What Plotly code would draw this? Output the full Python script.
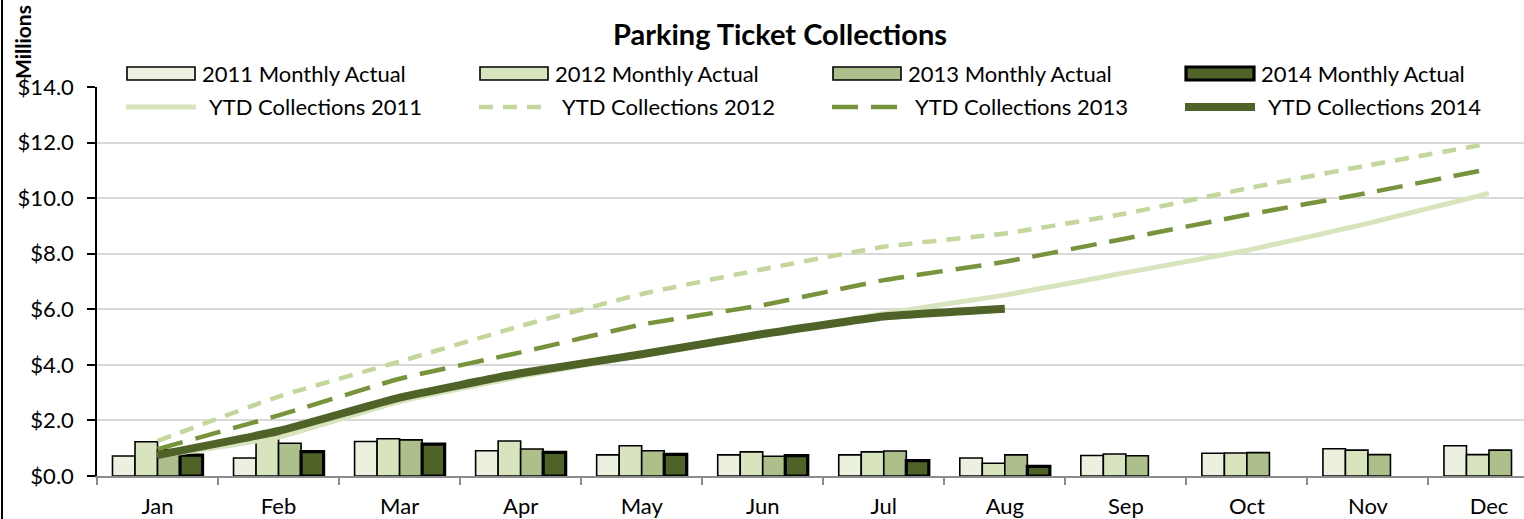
import plotly.graph_objects as go

months = ["Jan", "Feb", "Mar", "Apr", "May", "Jun", "Jul", "Aug", "Sep", "Oct", "Nov", "Dec"]

monthly_2011 = [0.72, 0.65, 1.24, 0.91, 0.76, 0.76, 0.76, 0.65, 0.74, 0.82, 0.98, 1.09]
monthly_2012 = [1.23, 1.55, 1.34, 1.26, 1.09, 0.87, 0.87, 0.46, 0.79, 0.83, 0.93, 0.77]
monthly_2013 = [0.95, 1.18, 1.30, 0.97, 0.91, 0.71, 0.90, 0.76, 0.73, 0.84, 0.77, 0.93]
monthly_2014 = [0.75, 0.88, 1.15, 0.85, 0.78, 0.73, 0.55, 0.35, None, None, None, None]

ytd_2011 = [0.72, 1.40, 2.68, 3.58, 4.35, 5.10, 5.85, 6.51, 7.32, 8.12, 9.09, 10.17]
ytd_2012 = [1.26, 2.86, 4.12, 5.40, 6.55, 7.44, 8.25, 8.73, 9.45, 10.35, 11.18, 11.96]
ytd_2013 = [0.97, 2.18, 3.50, 4.45, 5.45, 6.15, 7.05, 7.71, 8.55, 9.40, 10.19, 11.05]
ytd_2014 = [0.75, 1.62, 2.82, 3.70, 4.38, 5.11, 5.74, 6.02]

bar_names = ["2011 Monthly Actual", "2012 Monthly Actual", "2013 Monthly Actual", "2014 Monthly Actual"]
line_names = ["YTD Collections 2011", "YTD Collections 2012", "YTD Collections 2013", "YTD Collections 2014"]

BAR_COLORS = ["#ebf1de", "#d7e4bd", "#adbf8a", "#4f6228"]
BAR_LW = [1.6, 1.6, 1.6, 3.2]
LINE_COLORS = ["#d7e4bd", "#c3d69b", "#77933c", "#4f6228"]
LINE_W = [5, 4.5, 4.5, 8]
LINE_DASH = ["solid", "14px,10px", "26px,13px", "solid"]

FONT = "Lato"
W, H = 1524, 519
L, R, T, B = 97, 0, 87, 43
PW, PH = W - L - R, H - T - B

def px(x):
    return (x - L) / PW

def py(y):
    return (H - B - y) / PH

fig = go.Figure()

for name, vals, col, lw in zip(bar_names, [monthly_2011, monthly_2012, monthly_2013, monthly_2014], BAR_COLORS, BAR_LW):
    fig.add_trace(go.Bar(x=months, y=vals, name=name, marker=dict(color=col, line=dict(color="black", width=lw)),
                         showlegend=False))

for name, vals, col, lw, dash in zip(line_names, [ytd_2011, ytd_2012, ytd_2013, ytd_2014], LINE_COLORS, LINE_W, LINE_DASH):
    fig.add_trace(go.Scatter(x=months[:len(vals)], y=vals, name=name, mode="lines",
                             line=dict(color=col, width=lw, dash=dash, shape="spline", smoothing=0.4),
                             showlegend=False))

shapes = []
annotations = []
col_x = [127, 480, 833, 1186]
for i in range(4):
    x0 = col_x[i]
    shapes.append(dict(type="rect", xref="paper", yref="paper",
                       x0=px(x0), x1=px(x0 + 68), y0=py(80), y1=py(67),
                       fillcolor=BAR_COLORS[i], line=dict(color="black", width=BAR_LW[i])))
    annotations.append(dict(text=bar_names[i], xref="paper", yref="paper", x=px(x0 + 73), y=py(73),
                            xanchor="left", yanchor="middle", showarrow=False,
                            font=dict(family=FONT, size=22, color="black")))
    shapes.append(dict(type="line", xref="paper", yref="paper",
                       x0=px(x0 - 1), x1=px(x0 + 69), y0=py(107), y1=py(107),
                       line=dict(color=LINE_COLORS[i], width=LINE_W[i], dash=LINE_DASH[i])))
    annotations.append(dict(text=line_names[i], xref="paper", yref="paper", x=px(x0 + 80), y=py(107),
                            xanchor="left", yanchor="middle", showarrow=False,
                            font=dict(family=FONT, size=22, color="black")))

shapes.append(dict(type="line", xref="paper", yref="paper", x0=px(2), x1=px(2), y0=py(0), y1=py(H),
                   line=dict(color="black", width=2)))

annotations.append(dict(text="<b>Millions</b>", xref="paper", yref="paper", x=px(22), y=py(42),
                        xanchor="center", yanchor="middle", textangle=-90, showarrow=False,
                        font=dict(family=FONT, size=21, color="black")))

fig.update_layout(
    width=W, height=H,
    margin=dict(l=L, r=R, t=T, b=B),
    paper_bgcolor="white", plot_bgcolor="white",
    barmode="group", bargap=0.256, bargroupgap=0,
    font=dict(family=FONT, size=22, color="black"),
    title=dict(text="<b>Parking Ticket Collections</b>", x=780 / W, xanchor="center",
               y=1 - 35 / H, yanchor="middle", yref="container",
               font=dict(family=FONT, size=29, color="black")),
    shapes=shapes, annotations=annotations,
    xaxis=dict(type="category", range=[-0.5, (W - 158) / 121], tickson="boundaries",
               ticks="outside", ticklen=7, tickwidth=1.5, tickcolor="#8c8c8c",
               showline=True, linecolor="#8c8c8c", linewidth=2, showgrid=False,
               ticklabelstandoff=10, tickfont=dict(family=FONT, size=22, color="black")),
    yaxis=dict(range=[0, 14], dtick=2, tickprefix="$", tickformat=".1f",
               showline=True, linecolor="black", linewidth=1.5,
               ticks="outside", ticklen=8, tickwidth=1.5, tickcolor="black",
               showgrid=True, gridcolor="#d9d9d9", gridwidth=2, zeroline=False,
               ticklabelstandoff=9, tickfont=dict(family=FONT, size=22, color="black")),
)

fig.write_html("out.html", config={"displayModeBar": False},
               post_script="document.documentElement.style.margin='0';document.body.style.margin='0';"
                           "document.body.style.overflow='hidden';")
